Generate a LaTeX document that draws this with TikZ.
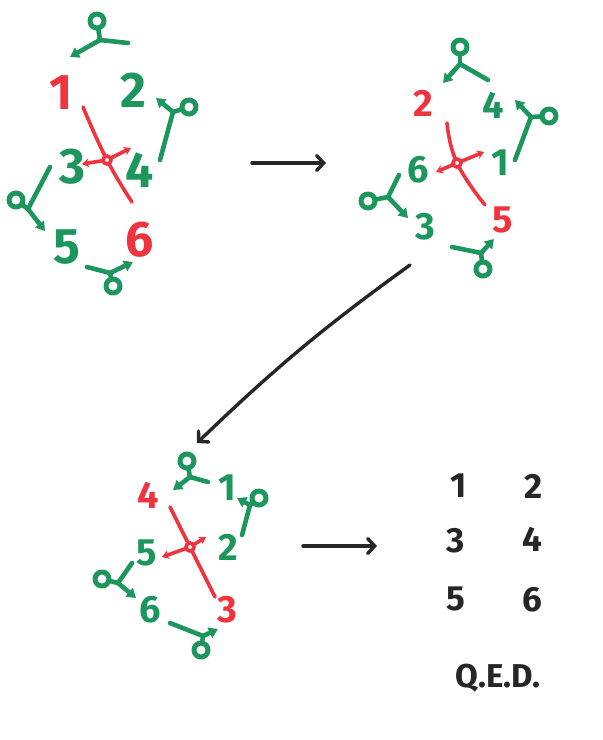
\documentclass[tikz,border=0pt]{standalone}
\usepackage{fontspec}
\setmainfont{Fira Sans}
\usetikzlibrary{arrows.meta, calc}
\definecolor{markergreen}{RGB}{28,150,92}
\definecolor{markerred}{RGB}{238,52,62}
\tikzset{x=1pt,y=-1pt}
\tikzset{
  greenpen/.style={draw=markergreen, line width=4.6pt, line cap=round, line join=round},
  redpen/.style={draw=markerred, line width=3.6pt, line cap=round},
  blackpen/.style={draw=black!85, line width=3.4pt, line cap=round,
    -{Straight Barb[length=7pt,width=15pt,line cap=round]}},
  digit/.style={inner sep=0pt},
}
% loop, junction, tail end, arrow tip
\def\knot(#1)(#2)(#3)(#4){%
  \draw[greenpen] (#2) -- (#3);
  \draw[greenpen,-{Triangle[length=9pt,width=11pt]}] (#2) -- (#4);
  \draw[greenpen] (#2) -- ($(#1)!7pt!(#2)$);
  \draw[greenpen,line width=5pt] (#1) circle (7);
}
% centre, start, end, left tip, right tip
\def\hub(#1)(#2)(#3)(#4)(#5){%
  \draw[redpen] plot[smooth,tension=0.8] coordinates {(#2) (#1) (#3)};
  \draw[redpen,-{Stealth[length=7pt,width=9pt]}] (#1) -- (#4);
  \draw[redpen,-{Stealth[length=7pt,width=9pt]}] (#1) -- (#5);
  \draw[redpen,fill=white] (#1) circle (4);
}

\begin{document}
\begin{tikzpicture}
\useasboundingbox (0,0) rectangle (603,740);

% first position
\begin{scope}[every node/.append style={font=\fontsize{50}{50}\selectfont\bfseries}]
  \node[digit,text=markerred]   (a-tl) at (61,93)   {1};
  \node[digit,text=markergreen] (a-tr) at (133,90)  {2};
  \node[digit,text=markergreen] (a-ml) at (72,167)  {3};
  \node[digit,text=markergreen] (a-mr) at (140,170) {4};
  \node[digit,text=markergreen] (a-bl) at (67,247)  {5};
  \node[digit,text=markerred]   (a-br) at (140,240) {6};
  \knot(97,21)(100,40)(128,43)(70,57)
  \knot(189,107)(173,112)(160,160)(156,98)
  \knot(16,200)(28,209)(50,167)(45,231)
  \knot(113,286)(110,273)(87,267)(133,262)
  \hub(107,160)(83,107)(132,202)(82,164)(131,148)
\end{scope}

% second position
\begin{scope}[every node/.append style={font=\fontsize{38}{38}\selectfont\bfseries}]
  \node[digit,text=markerred]   (b-tl) at (423,103) {2};
  \node[digit,text=markergreen] (b-tr) at (493,105) {4};
  \node[digit,text=markergreen] (b-ml) at (418,170) {6};
  \node[digit,text=markergreen] (b-mr) at (500,163) {1};
  \node[digit,text=markergreen] (b-bl) at (425,227) {3};
  \node[digit,text=markerred]   (b-br) at (503,220) {5};
  \knot(460,47)(460,64)(488,80)(443,83)
  \knot(549,116)(531,117)(515,160)(515,100)
  \knot(368,201)(388,197)(399,175)(408,218)
  \knot(483,269)(481,253)(452,247)(494,239)
  \hub(457,163)(447,123)(485,205)(436,172)(484,152)
\end{scope}

% third position
\begin{scope}[every node/.append style={font=\fontsize{38}{38}\selectfont\bfseries}]
  \node[digit,text=markerred]   (c-tl) at (148,495) {4};
  \node[digit,text=markergreen] (c-tr) at (227,488) {1};
  \node[digit,text=markergreen] (c-ml) at (147,553) {5};
  \node[digit,text=markergreen] (c-mr) at (228,547) {2};
  \node[digit,text=markergreen] (c-bl) at (150,610) {6};
  \node[digit,text=markerred]   (c-br) at (227,610) {3};
  \knot(187,461)(190,477)(208,482)(173,490)
  \knot(259,498)(250,505)(242,535)(237,498)
  \knot(102,579)(118,583)(132,563)(136,598)
  \knot(201,650)(203,636)(170,623)(218,629)
  \hub(190,547)(170,507)(215,597)(162,557)(206,537)
\end{scope}

% solved
\begin{scope}[every node/.append style={font=\fontsize{35}{35}\selectfont\bfseries, text=black!85}]
  \node (s1) at (459,486) {1};
  \node (s2) at (534,486) {2};
  \node (s3) at (456,541) {3};
  \node (s4) at (532,539) {4};
  \node (s5) at (456,599) {5};
  \node (s6) at (532,600) {6};
  \node[font=\fontsize{33}{33}\selectfont\bfseries] (qed) at (498,678) {Q.E.D.};
\end{scope}

\coordinate (m1) at (252,163);
\coordinate (m2) at (326,163);
\coordinate (m3) at (410,265);
\coordinate (m4) at (197,443);
\coordinate (m5) at (303,546);
\coordinate (m6) at (377,546);
\draw[blackpen] (m1) -- (m2);
\draw[blackpen] (m3) to[bend right=4] (m4);
\draw[blackpen] (m5) -- (m6);
\end{tikzpicture}
\end{document}
